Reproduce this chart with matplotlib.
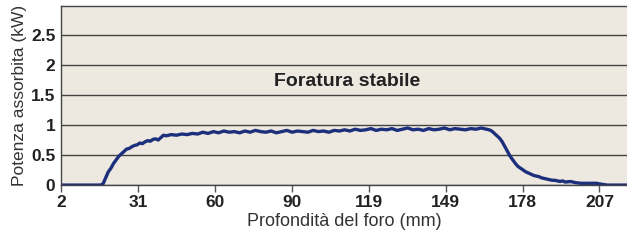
import numpy as np
import matplotlib.pyplot as plt

plt.rcParams['font.family'] = ['Liberation Sans', 'DejaVu Sans']

# depth (mm) and absorbed power (kW)
depth = [2, 17, 18, 19, 20, 21, 22, 23, 24, 25, 26, 27, 28, 29, 30, 31, 32, 33, 34,
         35, 36, 37, 38, 39, 40, 41, 42, 44, 46, 48, 50, 52, 54, 56, 58, 60,
         62, 64, 66, 68, 70, 72, 74, 76, 78, 80, 82, 84, 86, 88, 90, 92, 94, 96,
         98, 100, 102, 104, 106, 108, 110, 112, 114, 116, 118, 120, 122, 124, 126,
         128, 130, 132, 134, 136, 138, 140, 142, 144, 146, 148, 150, 152, 154, 156,
         158, 160, 162, 164, 165, 166, 167, 168, 169, 170, 171, 172, 173, 174, 175,
         176, 177, 178, 179, 180, 181, 182, 183, 184, 185, 186, 187, 188, 189, 190,
         191, 192, 193, 194, 196, 198, 200, 202, 204, 206, 207, 210, 214, 217.5]
power = [0, 0, 0.02, 0.12, 0.22, 0.28, 0.36, 0.42, 0.48, 0.52, 0.56, 0.60, 0.61, 0.64, 0.66,
         0.67, 0.70, 0.69, 0.72, 0.74, 0.73, 0.76, 0.77, 0.75, 0.79, 0.83, 0.82, 0.84, 0.83,
         0.85, 0.84, 0.86, 0.85, 0.88, 0.86, 0.89, 0.87, 0.90, 0.88, 0.89, 0.87, 0.90, 0.88,
         0.91, 0.89, 0.88, 0.90, 0.87, 0.89, 0.91, 0.88, 0.90, 0.89, 0.88, 0.91, 0.89, 0.90,
         0.88, 0.91, 0.90, 0.92, 0.90, 0.93, 0.91, 0.92, 0.94, 0.91, 0.93, 0.92, 0.94, 0.91,
         0.93, 0.95, 0.92, 0.93, 0.91, 0.94, 0.92, 0.93, 0.95, 0.92, 0.94, 0.93, 0.92, 0.94,
         0.93, 0.95, 0.93, 0.92, 0.90, 0.86, 0.82, 0.78, 0.72, 0.64, 0.56, 0.48, 0.42, 0.36,
         0.31, 0.28, 0.25, 0.22, 0.20, 0.18, 0.16, 0.15, 0.14, 0.12, 0.11, 0.10, 0.09, 0.08,
         0.08, 0.07, 0.06, 0.07, 0.05, 0.06, 0.04, 0.03, 0.03, 0.03, 0.03, 0.02, 0, 0, 0]

tick_pos = np.linspace(2, 207, 8)
tick_labels = ['2', '31', '60', '90', '119', '149', '178', '207']
y_ticks = [0, 0.5, 1, 1.5, 2, 2.5]
y_labels = ['0', '0.5', '1', '1.5', '2', '2.5']

fig = plt.figure(figsize=(6.27, 2.41), dpi=100)
ax = fig.add_axes([0.0973, 0.232, 0.9027, 0.743])
ax.set_facecolor('#ede9e0')

ax.plot(depth, power, color='#1c2f7c', linewidth=2.4, solid_joinstyle='round')

ax.set_xlim(2, 217.5)
ax.set_ylim(0, 2.98)
ax.set_yticks(y_ticks)
ax.set_yticklabels(y_labels, fontsize=12.5, fontweight='bold', color='#222222')
ax.set_xticks(tick_pos)
ax.set_xticklabels(tick_labels, fontsize=12.5, fontweight='bold', color='#222222')
ax.tick_params(axis='y', length=0, pad=4)
ax.tick_params(axis='x', direction='out', length=5, width=1, color='#555555', pad=2)
ax.grid(axis='y', color='#444444', linewidth=1.0)
ax.set_axisbelow(True)

for s in ['left', 'bottom', 'top']:
    ax.spines[s].set_color('#444444')
    ax.spines[s].set_linewidth(1.0)
ax.spines['right'].set_visible(False)

ax.text(110.8, 1.73, 'Foratura stabile', fontsize=14, fontweight='bold',
        ha='center', va='center', color='#222222')
ax.set_ylabel('Potenza assorbita (kW)', fontsize=12.5, color='#333333', labelpad=3)
ax.set_xlabel('Profondità del foro (mm)', fontsize=13, color='#333333', labelpad=2)

plt.savefig('out.png', dpi=100)
